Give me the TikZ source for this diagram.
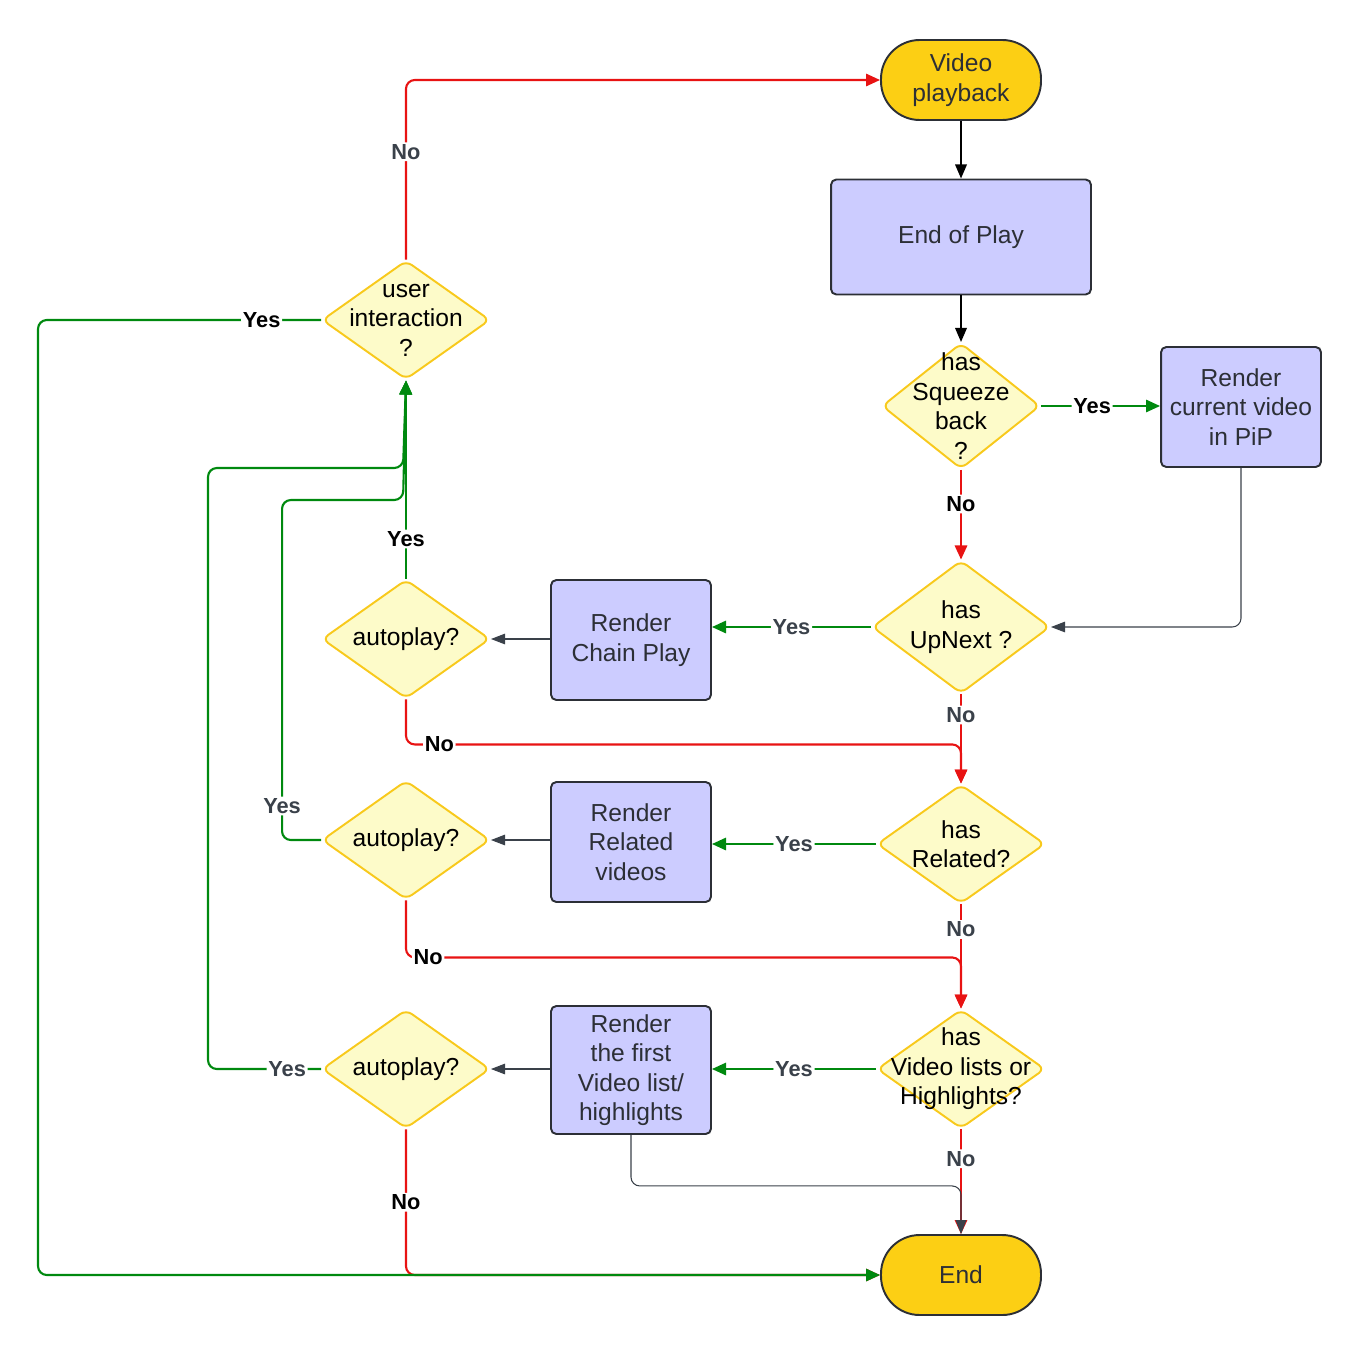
\documentclass[tikz,border=0pt]{standalone}
\usepackage{fontspec}
\setmainfont{Liberation Sans}
\usepackage{xcolor}
\usetikzlibrary{arrows.meta,shapes.geometric}

\definecolor{termfill}{HTML}{FCCF14}
\definecolor{procfill}{HTML}{CCCCFF}
\definecolor{decfill}{HTML}{FDFBC9}
\definecolor{decline}{HTML}{F8C91C}
\definecolor{boxline}{HTML}{2C2F36}
\definecolor{txtdark}{HTML}{2C2F36}
\definecolor{flowgreen}{HTML}{00890F}
\definecolor{flowred}{HTML}{E81313}
\definecolor{linegray}{HTML}{3A414A}
\newcommand{\flownodefont}{\fontsize{14pt}{16.8pt}\selectfont}
\newcommand{\flowlblfont}{\fontsize{12.4pt}{14pt}\selectfont\bfseries}

\begin{document}
\begin{tikzpicture}[x=0.02cm, y=-0.02cm,
  term/.style={draw=boxline, line width=1.1pt, fill=termfill, rounded corners=22pt,
    minimum width=3.2cm, minimum height=1.6cm, text=txtdark, align=center, font=\flownodefont},
  proc/.style={draw=boxline, line width=1.1pt, fill=procfill, rounded corners=3pt,
    minimum width=3.2cm, minimum height=2.4cm, text=txtdark, align=center, font=\flownodefont},
  dec/.style={diamond, draw=decline, line width=1.1pt, fill=decfill, rounded corners=4pt,
    minimum width=3.36cm, minimum height=2.38cm, inner sep=0pt},
  dtext/.style={align=center, text=black, font=\flownodefont},
  yesno/.style={fill=white, inner sep=1pt, font=\flowlblfont},
  lblk/.style={yesno, text=black},
  lgry/.style={yesno, text=linegray},
  gline/.style={draw=flowgreen, line width=1.2pt, rounded corners=5pt,
    -{Triangle[length=8pt,width=7pt]}},
  rline/.style={draw=flowred, line width=1.2pt, rounded corners=5pt,
    -{Triangle[length=8pt,width=7pt]}},
  kline/.style={draw=black, line width=1.2pt, -{Triangle[length=8pt,width=6.5pt]}},
  thinline/.style={draw=linegray, line width=0.6pt, rounded corners=5pt,
    -{Triangle[length=8pt,width=6pt]}}]
  \useasboundingbox (0,0) rectangle (1361,1355);

  % right column: start, end of play and the three "has ..." checks
  \node[term] (play) at (961,80) {Video\\playback};
  \node[proc, minimum width=5.2cm, minimum height=2.3cm] (eop) at (961,237) {End of Play};
  \node[dec, minimum width=3.16cm, minimum height=2.52cm,
    label={[dtext]center:has\\Squeeze\\back\\?}] (sq) at (961,406) {};
  \node[proc] (pip) at (1241,407) {Render\\current video\\in PiP};
  \node[dec, minimum width=3.56cm, minimum height=2.66cm,
    label={[dtext]center:has\\UpNext ?}] (upn) at (961,627) {};
  \node[dec, label={[dtext]center:has\\Related?}] (rel) at (961,844) {};
  \node[dec, label={[dtext]center:has\\Video lists or\\Highlights?}] (vl) at (961,1069) {};
  \node[term] (endn) at (961,1275) {End};

  % middle column: render boxes
  \node[proc] (chain) at (631,640) {Render\\Chain Play};
  \node[proc] (relv) at (631,842) {Render\\Related\\videos};
  \node[proc, minimum height=2.56cm] (first) at (631,1070) {Render\\the first\\Video list/\\highlights};

  % left column: autoplay checks and user interaction
  \node[dec, label={[dtext]center:user\\interaction\\?}] (ui) at (406,320) {};
  \node[dec, label={[dtext]center:autoplay?}] (ap1) at (406,639) {};
  \node[dec, label={[dtext]center:autoplay?}] (ap2) at (406,840) {};
  \node[dec, label={[dtext]center:autoplay?}] (ap3) at (406,1069) {};

  % main flow
  \draw[kline] (play) -- (eop);
  \draw[kline] (eop) -- (sq);
  \draw[gline] (sq.east) -- node[lblk, pos=0.43] {Yes} (sq.east -| pip.west);
  \draw[rline] (sq.south) -- node[lblk, pos=0.38] {No} (upn.north);
  \draw[thinline] (pip.south) |- (upn.east);
  \draw[gline] (upn.west) -- node[lgry] {Yes} (upn.west -| chain.east);
  \draw[rline] (upn.south) -- node[lgry, pos=0.23] {No} (rel.north);
  \draw[gline] (rel.west) -- node[lgry] {Yes} (rel.west -| relv.east);
  \draw[rline] (rel.south) -- node[lgry, pos=0.24] {No} (vl.north);
  \draw[gline] (vl.west) -- node[lgry] {Yes} (vl.west -| first.east);
  \draw[rline] (vl.south) -- node[lgry, pos=0.28] {No} (endn.north);
  \draw[thinline] (first.south) -- ++(0,51) -| (endn.north);

  % render boxes into autoplay checks
  \draw[thinline] (chain.west |- ap1.east) -- (ap1.east);
  \draw[thinline] (relv.west |- ap2.east) -- (ap2.east);
  \draw[thinline] (first.west |- ap3.east) -- (ap3.east);

  % autoplay: no -> next check, yes -> user interaction
  \draw[rline] (ap1.south) -- ++(0,45) -- node[lblk, pos=0.06] {No} ++(555,0) -- (rel.north);
  \draw[rline] (ap2.south) -- ++(0,57) -- node[lblk, pos=0.04] {No} ++(555,0) -- (vl.north);
  \draw[rline] (ap3.south) |- node[lblk, pos=0.25] {No} (endn.west);
  \draw[gline] (ap1.north) -- node[lblk, pos=0.2] {Yes} (ui.south);
  \draw[gline] (ap2.west) -- ++(-39,0) -- node[lgry, pos=0.1] {Yes} ++(0,-340) -- ++(121,0) -- (ui.south);
  \draw[gline] (ap3.west) -- node[lgry, pos=0.3] {Yes} ++(-113,0) -- ++(0,-601) -- ++(195,0) -- (ui.south);

  % user interaction: no -> replay, yes -> end
  \draw[rline] (ui.north) |- node[lgry, pos=0.3] {No} (play.west);
  \draw[gline] (ui.west) -- node[lblk, pos=0.21] {Yes} ++(-283,0) |- (endn.west);
\end{tikzpicture}
\end{document}
